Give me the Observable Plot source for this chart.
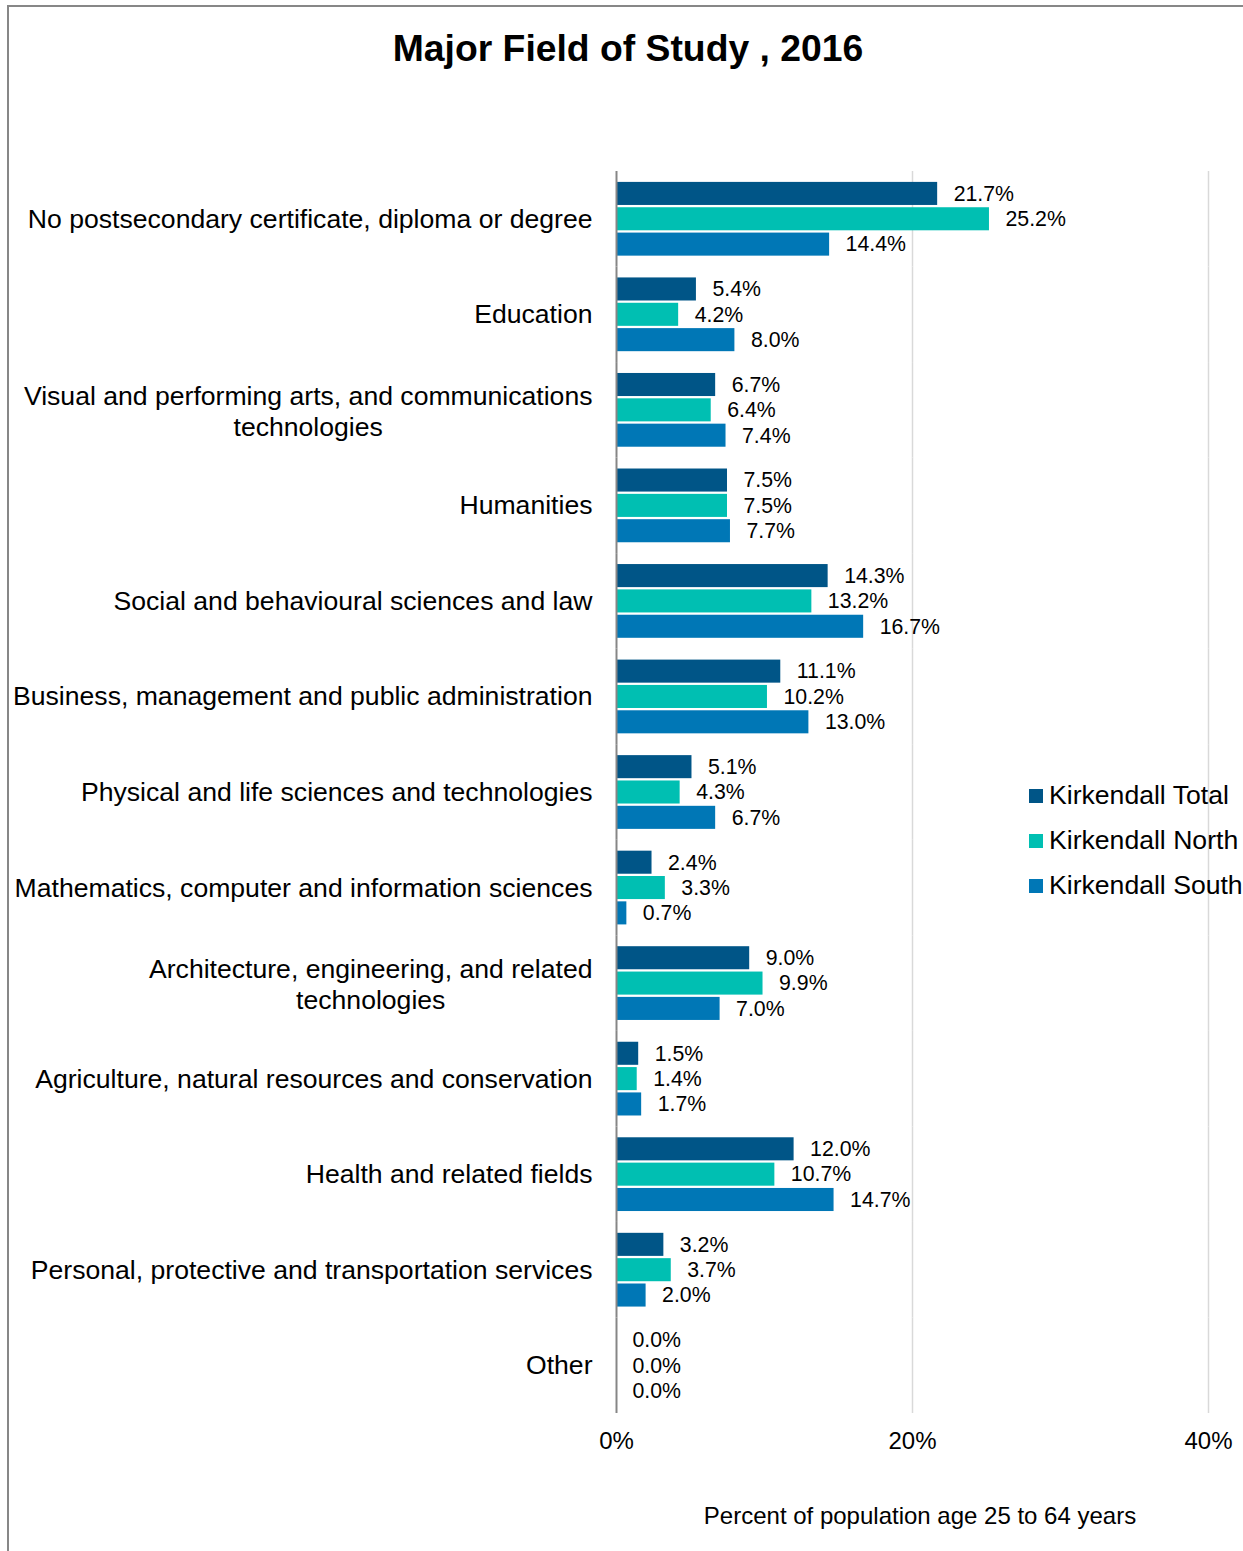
<!DOCTYPE html>
<html><head><meta charset="utf-8">
<script src="https://cdn.jsdelivr.net/npm/d3@7"></script>
<script src="https://cdn.jsdelivr.net/npm/@observablehq/plot@0.6"></script>
<style>
body{margin:0;background:#fff;font-family:"Liberation Sans",Arial,sans-serif;}
#wrap{position:relative;width:1243px;height:1551px;overflow:hidden;background:#fff;}
#chart{position:absolute;left:0;top:0;}
.bl{position:absolute;background:#878787;}
#title{position:absolute;left:0;width:1256px;top:30px;text-align:center;font-weight:bold;font-size:37.3px;line-height:1;color:#000;}
#caption{position:absolute;left:620px;width:600px;top:1504px;text-align:center;font-size:24px;line-height:1;color:#000;}
#legend{position:absolute;left:1029px;top:782px;}
.li{position:relative;height:45px;font-size:26.6px;line-height:1;white-space:nowrap;color:#000;}
.sw{position:absolute;left:0;top:7px;width:14px;height:14px;}
.lt{position:absolute;left:20px;top:0;}
</style></head><body>
<div id="wrap">
<div id="chart"></div>
<div class="bl" style="left:7px;top:5px;width:2px;height:1546px"></div>
<div class="bl" style="left:7px;top:5px;width:1236px;height:2px"></div>
<div id="title"></div>
<div id="caption"></div>
<div id="legend"></div>
</div>
<script>
const titleText = "Major Field of Study , 2016";
const captionText = "Percent of population age 25 to 64 years";
const categories = [
  "No postsecondary certificate, diploma or degree",
  "Education",
  "Visual and performing arts, and communications\ntechnologies",
  "Humanities",
  "Social and behavioural sciences and law",
  "Business, management and public administration",
  "Physical and life sciences and technologies",
  "Mathematics, computer and information sciences",
  "Architecture, engineering, and related\ntechnologies",
  "Agriculture, natural resources and conservation",
  "Health and related fields",
  "Personal, protective and transportation services",
  "Other"
];
const series = ["Kirkendall Total", "Kirkendall North", "Kirkendall South"];
const totalValues = [21.7, 5.4, 6.7, 7.5, 14.3, 11.1, 5.1, 2.4, 9.0, 1.5, 12.0, 3.2, 0.0];
const northValues = [25.2, 4.2, 6.4, 7.5, 13.2, 10.2, 4.3, 3.3, 9.9, 1.4, 10.7, 3.7, 0.0];
const southValues = [14.4, 8.0, 7.4, 7.7, 16.7, 13.0, 6.7, 0.7, 7.0, 1.7, 14.7, 2.0, 0.0];
const xTicks = [0, 20, 40];
const gridValues = [20, 40];
const colors = ["#005587", "#00BFB2", "#0077B6"];

const seriesValues = [totalValues, northValues, southValues];
const data = [];
categories.forEach((c, i) => {
  series.forEach((s, j) => data.push({category: c, series: s, value: seriesValues[j][i]}));
});

document.getElementById("title").textContent = titleText;
document.getElementById("caption").textContent = captionText;
const leg = document.getElementById("legend");
series.forEach((s, j) => {
  const row = document.createElement("div"); row.className = "li";
  const sw = document.createElement("div"); sw.className = "sw"; sw.style.background = colors[j];
  const t = document.createElement("div"); t.className = "lt"; t.textContent = s;
  row.appendChild(sw); row.appendChild(t); leg.appendChild(row);
});

const labelFont = 26.6;
const ctx = document.createElement("canvas").getContext("2d");
ctx.font = labelFont + "px 'Liberation Sans', Arial, sans-serif";
const single = categories.filter(c => !c.includes("\n"));
const multi = categories.filter(c => c.includes("\n"));
const multiMarks = multi.map(c => {
  const w = Math.max(...c.split("\n").map(l => ctx.measureText(l).width));
  return Plot.text([c], {fy: d => d, text: d => d, frameAnchor: "left", dx: -24 - w / 2,
    textAnchor: "middle", fontSize: labelFont, lineHeight: 1.17, fill: "#000"});
});

const chart = Plot.plot({
  width: 1243,
  height: 1551,
  marginLeft: 616,
  marginRight: 35,
  marginTop: 171,
  marginBottom: 138,
  style: {fontFamily: "'Liberation Sans', Arial, sans-serif", fontSize: "24px", color: "#000", background: "transparent"},
  x: {domain: [0, 40]},
  y: {domain: series, paddingInner: 0.09, paddingOuter: 0.43, round: false, axis: null},
  fy: {domain: categories, padding: 0, round: false, axis: null},
  color: {domain: series, range: colors},
  marks: [
    Plot.ruleX(gridValues, {stroke: "#d9d9d9", strokeWidth: 1.5}),
    Plot.barX(data, {x: "value", y: "series", fy: "category", fill: "series"}),
    Plot.ruleX([0], {stroke: "#868686", strokeWidth: 2}),
    Plot.text(data, {x: "value", y: "series", fy: "category", text: d => d.value.toFixed(1) + "%",
      dx: 16, textAnchor: "start", fontSize: 21.3, fill: "#000"}),
    Plot.text(single, {fy: d => d, text: d => d, frameAnchor: "left", dx: -24,
      textAnchor: "end", fontSize: labelFont, fill: "#000"}),
    ...multiMarks,
    Plot.axisX(xTicks, {tickSize: 0, tickPadding: 18, fontSize: 24, tickFormat: d => d + "%", label: null, fill: "#000"})
  ]
});
document.getElementById("chart").appendChild(chart);
</script>
</body></html>
